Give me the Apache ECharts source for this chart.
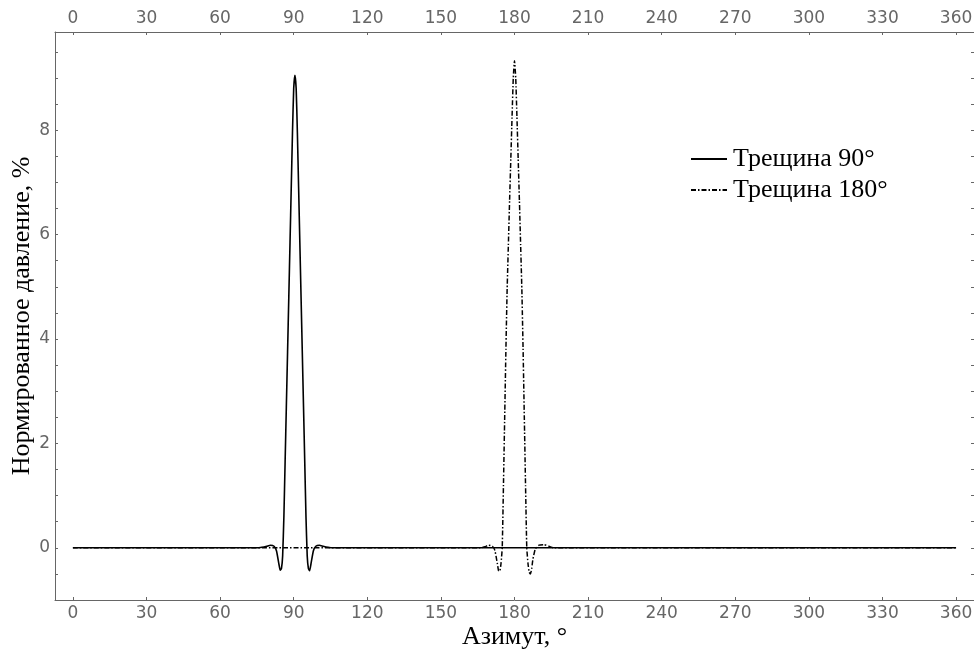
<!DOCTYPE html>
<html>
<head>
<meta charset="utf-8">
<script src="https://cdn.jsdelivr.net/npm/echarts@6/dist/echarts.min.js"></script>
<style>html,body{margin:0;padding:0;background:#fff}#c{width:974px;height:658px}</style>
</head>
<body>
<div id="c"></div>
<script>
// Трещина 90°
var azimuth90 = [0, 75, 77, 79, 80.5, 82, 83, 84, 84.5, 85, 85.5, 86, 86.5, 87, 87.5, 88, 88.5, 89, 89.5, 90, 90.5, 91, 91.5, 92, 92.5, 93, 93.5, 94, 94.5, 95, 95.5, 96, 96.5, 97, 98, 99, 100.5, 102, 104, 106, 360];
var pressure90 = [0, 0, 0.01, 0.03, 0.05, 0.03, -0.06, -0.32, -0.43, -0.4, -0.15, 0.6, 1.65, 2.7, 3.75, 4.8, 5.85, 6.9, 7.95, 8.8, 9.05, 8.8, 7.95, 6.9, 5.85, 4.8, 3.75, 2.7, 1.65, 0.6, -0.15, -0.4, -0.44, -0.32, -0.06, 0.03, 0.05, 0.03, 0.01, 0, 0];
// Трещина 180°
var azimuth180 = [0, 166, 168, 169.5, 171, 172, 173, 173.5, 174, 174.5, 175, 175.5, 176, 176.5, 177, 177.5, 178, 178.5, 179, 179.5, 180, 180.5, 181, 181.5, 182, 182.5, 183, 183.5, 184, 184.5, 185, 185.5, 186, 186.5, 187, 187.5, 188.5, 190, 192, 194, 196, 360];
var pressure180 = [0, 0, 0.02, 0.05, 0.03, -0.05, -0.3, -0.44, -0.45, -0.3, 0.0, 1.2, 2.5, 3.8, 4.95, 5.8, 6.65, 7.45, 8.25, 9.0, 9.33, 9.0, 8.25, 7.45, 6.65, 5.8, 4.95, 3.8, 2.5, 1.2, 0.0, -0.3, -0.47, -0.5, -0.4, -0.22, -0.02, 0.05, 0.06, 0.03, 0, 0];

var xTicks = [0, 30, 60, 90, 120, 150, 180, 210, 240, 270, 300, 330, 360];
var yLabels = [0, 2, 4, 6, 8];
var yTicks = [-1, -0.5, 0, 0.5, 1, 1.5, 2, 2.5, 3, 3.5, 4, 4.5, 5, 5.5, 6, 6.5, 7, 7.5, 8, 8.5, 9, 9.5];

function zip(a, b) { return a.map(function (v, i) { return [v, b[i]]; }); }

var axisColor = '#666';
var labelFont = { color: '#666', fontFamily: 'DejaVu Sans', fontSize: 17 };
var nameFont = { fontFamily: 'Liberation Serif', fontSize: 26, color: '#000' };

function xAxis(pos, withName) {
  return {
    type: 'value', position: pos, min: -7.3, max: 367.3,
    splitLine: { show: false },
    axisLine: { show: true, onZero: false, lineStyle: { color: axisColor, width: 1 } },
    axisTick: { show: true, inside: true, length: 3, customValues: xTicks, lineStyle: { color: axisColor } },
    axisLabel: Object.assign({ customValues: xTicks, margin: 5 }, labelFont),
    name: withName ? 'Азимут, °' : '',
    nameLocation: 'middle', nameGap: 24, nameMoveOverlap: false,
    nameTextStyle: nameFont
  };
}
function yAxis(pos, withLabels) {
  return {
    type: 'value', position: pos, min: -1, max: 9.88,
    splitLine: { show: false },
    axisLine: { show: withLabels, onZero: false, lineStyle: { color: axisColor, width: 1 } },
    axisTick: { show: true, inside: true, length: 3, customValues: yTicks, lineStyle: { color: axisColor } },
    axisLabel: Object.assign({ show: withLabels, customValues: yLabels, margin: 5 }, labelFont),
    name: withLabels ? 'Нормированное давление, %' : '',
    nameLocation: 'middle', nameGap: 20, nameMoveOverlap: false,
    nameTextStyle: nameFont
  };
}

var chart = echarts.init(document.getElementById('c'), null, { renderer: 'canvas' });
chart.setOption({
  animation: false,
  backgroundColor: '#fff',
  grid: { left: 55, right: 0, top: 32, bottom: 58, containLabel: false, outerBoundsMode: 'none' },
  xAxis: [xAxis('bottom', true), xAxis('top', false)],
  yAxis: [yAxis('left', true), yAxis('right', false)],
  legend: {
    orient: 'vertical', left: 690, top: 146, padding: 0, itemWidth: 36, itemHeight: 14, itemGap: 5,
    itemStyle: { opacity: 0 },
    textStyle: { fontFamily: 'Liberation Serif', fontSize: 26, color: '#000', padding: [0, 0, 0, 1] },
    data: ['Трещина 90°', 'Трещина 180°']
  },
  series: [
    {
      name: 'Трещина 90°', type: 'line', xAxisIndex: 0, yAxisIndex: 0,
      data: zip(azimuth90, pressure90), showSymbol: false, symbol: 'none', smooth: 0.15,
      lineStyle: { color: '#000', width: 1.6 }, itemStyle: { color: '#000' }
    },
    {
      name: 'Трещина 180°', type: 'line', xAxisIndex: 0, yAxisIndex: 0,
      data: zip(azimuth180, pressure180), showSymbol: false, symbol: 'none', smooth: 0.15,
      lineStyle: { color: '#000', width: 1.5, type: [5, 2, 1.5, 2] }, itemStyle: { color: '#000' }
    }
  ]
});
</script>
</body>
</html>
